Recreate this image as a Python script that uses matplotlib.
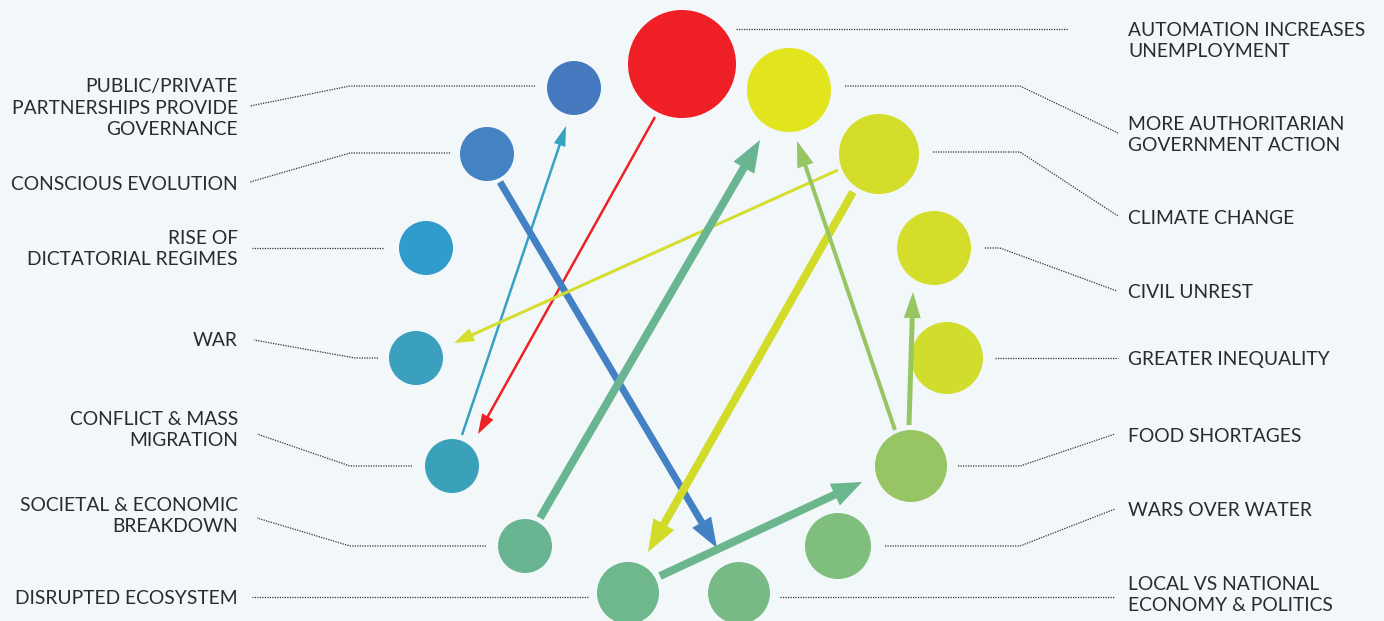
import matplotlib
matplotlib.use("Agg")
import matplotlib.pyplot as plt
from matplotlib.patches import Circle, FancyArrow

plt.rcParams['font.family'] = ['Lato', 'DejaVu Sans']

# ---- data ----
node_names = ["AUTOMATION INCREASES\nUNEMPLOYMENT", "MORE AUTHORITARIAN\nGOVERNMENT ACTION",
              "CLIMATE CHANGE", "CIVIL UNREST", "GREATER INEQUALITY", "FOOD SHORTAGES",
              "WARS OVER WATER", "LOCAL VS NATIONAL\nECONOMY & POLITICS", "DISRUPTED ECOSYSTEM",
              "SOCIETAL & ECONOMIC\nBREAKDOWN", "CONFLICT & MASS\nMIGRATION", "WAR",
              "RISE OF\nDICTATORIAL REGIMES", "CONSCIOUS EVOLUTION",
              "PUBLIC/PRIVATE\nPARTNERSHIPS PROVIDE\nGOVERNANCE"]
node_x = [682, 789, 879, 934, 947, 911, 838, 739, 628, 525, 452, 416, 426, 487, 574]
node_y = [64, 90, 154, 248, 358, 466, 546, 593, 593, 546, 466, 358, 248, 154, 88]
node_r = [54, 42, 40, 37, 36, 36, 33, 31, 31, 27, 27, 27, 27, 27, 27]
node_colors = ["#EF1F26", "#E2E41D", "#D4DD2A", "#D4DD2A", "#D1DD2C", "#98C564",
               "#7FBE7C", "#78BA86", "#6FB78C", "#69B592", "#3AA1BA", "#3B9FBE",
               "#309CCB", "#4482C4", "#4579BF"]
node_side = ["R", "R", "R", "R", "R", "R", "R", "R", "L", "L", "L", "L", "L", "L", "L"]
label_y = [41, 135, 219, 293, 360, 436, 511, 595, 598, 516, 430, 341, 249, 184, 108]
# leader line: start near circle, elbow x, elbow y, end near label
lead_start = [736, 845, 933, 985, 995, 958, 885, 780, 588, 486, 412, 378, 383, 450, 535]
lead_elbow_x = [1068, 1020, 1020, 1000, 1118, 1020, 1020, 1115, 252, 350, 350, 355, 252, 350, 350]
lead_end_x = [1068, 1118, 1118, 1117, 1118, 1115, 1115, 1115, 252, 257, 257, 254, 252, 250, 250]
lead_end_y = [29, 133, 216, 291, 358, 434, 509, 597, 597, 518, 434, 340, 248, 182, 106]
lead_y = [29, 86, 152, 248, 358, 466, 546, 597, 597, 546, 466, 358, 248, 153, 86]

# arrows (source -> target) in chart units
arrow_x0 = [655, 462, 500, 838, 540, 853, 895, 909, 660]
arrow_y0 = [117, 435, 182, 170, 518, 192, 430, 425, 576]
arrow_x1 = [478, 566, 717, 454, 760, 648, 797, 913, 862]
arrow_y1 = [434, 126, 548, 343, 140, 552, 141, 292, 482]
arrow_w = [2.5, 2.5, 7, 3, 8, 8, 4, 5, 8]
arrow_hw = [13, 12, 22, 14, 24, 24, 17, 17, 24]
arrow_hl = [20, 20, 30, 20, 32, 32, 26, 26, 30]
arrow_colors = ["#EE2024", "#35A2C0", "#4480C4", "#D5DE2C", "#69B591", "#D2DC28",
                "#98C564", "#98C564", "#6CB68E"]

bg = "#F2F7FA"
fig = plt.figure(figsize=(13.84, 6.21), dpi=100, facecolor=bg)
ax = fig.add_axes([0, 0, 1, 1])
ax.set_facecolor(bg)
ax.set_xlim(0, 1384)
ax.set_ylim(621, 0)
ax.set_aspect('equal')
ax.axis('off')

for x, y, r, c in zip(node_x, node_y, node_r, node_colors):
    ax.add_patch(Circle((x, y), r, facecolor=c, edgecolor='none', zorder=2))

for x0, y0, x1, y1, w, hw, hl, c in zip(arrow_x0, arrow_y0, arrow_x1, arrow_y1,
                                         arrow_w, arrow_hw, arrow_hl, arrow_colors):
    ax.add_patch(FancyArrow(x0, y0, x1 - x0, y1 - y0, width=w, head_width=hw,
                            head_length=hl, length_includes_head=True,
                            facecolor=c, edgecolor='none', zorder=3))

for i, name in enumerate(node_names):
    xs = [lead_start[i], lead_elbow_x[i], lead_end_x[i]]
    ys = [lead_y[i], lead_y[i], lead_end_y[i]]
    ax.plot(xs, ys, color="#333333", lw=0.9, linestyle=(0, (1, 1)), zorder=1)
    if node_side[i] == "R":
        ax.text(1128, label_y[i], name, ha='left', va='center', fontsize=13.9,
                color="#2B2B2B", linespacing=1.35)
    else:
        ax.text(238, label_y[i], name, ha='right', va='center', fontsize=13.9,
                color="#2B2B2B", linespacing=1.35, multialignment='right')

fig.savefig("out.png", dpi=100, facecolor=bg)
